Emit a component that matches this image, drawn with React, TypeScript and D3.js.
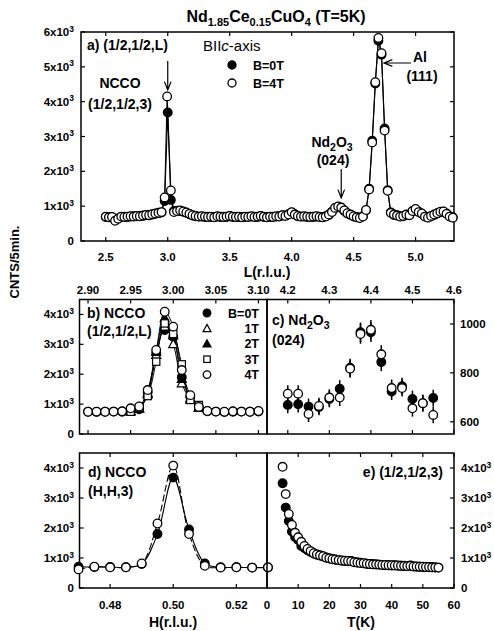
import * as d3 from 'd3'

const FONT = "'Liberation Sans', Arial, Helvetica, sans-serif"

// a) (1/2,1/2,L) scan, [L, counts]
const scanA_B0: [number, number][] = [
  [2.5, 690], [2.525, 690], [2.55, 680], [2.575, 600], [2.6, 650], [2.625, 690], [2.65, 700], [2.675, 690],
  [2.7, 700], [2.725, 710], [2.75, 710], [2.775, 720], [2.8, 720], [2.825, 740], [2.85, 750], [2.875, 760],
  [2.9, 780], [2.925, 800], [2.95, 820], [2.975, 1150], [3.0, 3690], [3.025, 1180], [3.05, 860], [3.075, 870],
  [3.1, 860], [3.125, 840], [3.15, 810], [3.175, 770], [3.2, 730], [3.225, 710], [3.25, 700], [3.275, 700],
  [3.3, 690], [3.325, 700], [3.35, 690], [3.375, 690], [3.4, 700], [3.425, 690], [3.45, 700], [3.475, 690],
  [3.5, 710], [3.525, 690], [3.55, 700], [3.575, 690], [3.6, 690], [3.625, 690], [3.65, 700], [3.675, 700],
  [3.7, 700], [3.725, 690], [3.75, 710], [3.775, 690], [3.8, 690], [3.825, 690], [3.85, 700], [3.875, 700],
  [3.9, 710], [3.925, 730], [3.95, 730], [3.975, 770], [4.0, 810], [4.025, 770], [4.05, 710], [4.075, 700],
  [4.1, 700], [4.125, 690], [4.15, 700], [4.175, 690], [4.2, 700], [4.225, 700], [4.25, 690], [4.275, 710],
  [4.3, 750], [4.325, 840], [4.35, 940], [4.375, 980], [4.4, 950], [4.425, 860], [4.45, 790], [4.475, 750],
  [4.5, 700], [4.525, 690], [4.55, 670], [4.575, 710], [4.6, 880], [4.625, 1500], [4.65, 2880], [4.675, 4520],
  [4.7, 5750], [4.725, 5350], [4.75, 3230], [4.775, 1460], [4.8, 820], [4.825, 750], [4.85, 740], [4.875, 710],
  [4.9, 710], [4.925, 750], [4.95, 750], [4.975, 850], [5.0, 900], [5.025, 840], [5.05, 780], [5.075, 710],
  [5.1, 680], [5.125, 710], [5.15, 750], [5.175, 790], [5.2, 830], [5.225, 840], [5.25, 790], [5.275, 710],
  [5.3, 680],
]
const scanA_B4: [number, number][] = [
  [2.5, 700], [2.525, 680], [2.55, 690], [2.575, 580], [2.6, 640], [2.625, 700], [2.65, 690], [2.675, 700],
  [2.7, 710], [2.725, 700], [2.75, 720], [2.775, 710], [2.8, 730], [2.825, 750], [2.85, 740], [2.875, 770],
  [2.9, 790], [2.925, 810], [2.95, 830], [2.975, 1250], [2.995, 4150], [3.025, 1450], [3.05, 830], [3.075, 860],
  [3.1, 880], [3.125, 850], [3.15, 820], [3.175, 780], [3.2, 740], [3.225, 720], [3.25, 700], [3.275, 710],
  [3.3, 700], [3.325, 690], [3.35, 700], [3.375, 680], [3.4, 710], [3.425, 700], [3.45, 690], [3.475, 700],
  [3.5, 720], [3.525, 700], [3.55, 690], [3.575, 700], [3.6, 680], [3.625, 700], [3.65, 690], [3.675, 710],
  [3.7, 690], [3.725, 700], [3.75, 720], [3.775, 700], [3.8, 680], [3.825, 700], [3.85, 690], [3.875, 710],
  [3.9, 700], [3.925, 740], [3.95, 720], [3.975, 760], [4.0, 830], [4.025, 760], [4.05, 720], [4.075, 700],
  [4.1, 710], [4.125, 700], [4.15, 690], [4.175, 700], [4.2, 710], [4.225, 690], [4.25, 680], [4.275, 700],
  [4.3, 760], [4.325, 830], [4.35, 950], [4.375, 990], [4.4, 960], [4.425, 880], [4.45, 800], [4.475, 760],
  [4.5, 710], [4.525, 680], [4.55, 660], [4.575, 700], [4.6, 890], [4.625, 1480], [4.65, 2830], [4.675, 4560],
  [4.7, 5830], [4.725, 5390], [4.75, 3170], [4.775, 1440], [4.8, 810], [4.825, 760], [4.85, 730], [4.875, 700],
  [4.9, 720], [4.925, 760], [4.95, 740], [4.975, 860], [5.0, 920], [5.025, 830], [5.05, 790], [5.075, 700],
  [5.1, 670], [5.125, 720], [5.15, 760], [5.175, 800], [5.2, 840], [5.225, 850], [5.25, 780], [5.275, 700],
  [5.3, 670],
]

// b) NCCO (1/2,1/2,L), several fields
const Lb = [2.9, 2.91, 2.92, 2.93, 2.94, 2.95, 2.96, 2.97, 2.98, 2.99, 3.0, 3.01, 3.02, 3.03, 3.04, 3.05, 3.06, 3.07, 3.08, 3.09, 3.1]
const b0T = [745, 740, 745, 750, 745, 770, 830, 1400, 2700, 3480, 3250, 1900, 1250, 900, 760, 750, 740, 745, 750, 745, 750]
const b4T = [745, 750, 745, 750, 760, 860, 920, 1470, 2810, 4090, 3590, 2140, 1300, 907, 770, 750, 745, 760, 750, 745, 770]
const Lb_mid = [2.95, 2.96, 2.97, 2.98, 2.99, 3.0, 3.01, 3.02, 3.03]
const b1T = [760, 860, 1330, 2650, 3600, 3010, 1700, 1150, 880]
const b2T = [770, 850, 1380, 2750, 3880, 3300, 1850, 1200, 900]
const b3T = [745, 880, 1270, 2420, 3700, 3350, 2330, 1140, 970]

// c) Nd2O3 (024)
const Lc = [4.2, 4.225, 4.25, 4.275, 4.3, 4.325, 4.35, 4.375, 4.4, 4.425, 4.45, 4.475, 4.5, 4.525, 4.55]
const c0T = [669, 672, 662, 660, 693, 735, 821, 966, 966, 844, 724, 745, 693, 676, 697]
const c4T = [715, 715, 632, 665, 699, 699, 817, 959, 976, 876, 738, 738, 655, 676, 628]
const cErr = [34, 34, 33, 33, 34, 35, 37, 40, 40, 37, 35, 35, 34, 34, 34]

// d) NCCO (H,H,3)
const Hd = [0.47, 0.475, 0.48, 0.485, 0.49, 0.495, 0.5, 0.505, 0.51, 0.515, 0.52, 0.525, 0.53]
const d0T = [710, 700, 700, 690, 800, 1800, 3680, 1950, 820, 690, 690, 680, 680]
const d4T = [620, 710, 690, 690, 820, 2150, 4080, 1800, 740, 680, 690, 680, 690]

// e) (1/2,1/2,3) vs temperature
const Te = [5, 6, 7, 8, 9, 10, 11, 12, 13, 14, 15, 16, 17, 18, 19, 20, 21, 22, 23, 24, 25, 26, 27, 28, 29, 30,
  31, 32, 33, 34, 35, 36, 37, 38, 39, 40, 41, 42, 43, 44, 45, 46, 47, 48, 49, 50, 51, 52, 53, 54, 55]
const e4T = [4040, 3130, 2470, 2100, 1840, 1690, 1540, 1400, 1300, 1230, 1160, 1120, 1090, 1060, 1010, 990, 960,
  950, 930, 920, 910, 900, 890, 860, 850, 830, 830, 810, 800, 790, 790, 780, 770, 770, 760, 760, 750, 750, 740,
  740, 730, 740, 720, 720, 710, 710, 700, 700, 690, 690, 680]
const e0T = [3490, 2680, 2230, 1880, 1700, 1600, 1400, 1330, 1260, 1200, 1150, 1110, 1080, 1050, 1020, 980, 970,
  940, 930, 910, 900, 890, 900, 870, 850, 840, 820, 810, 800, 790, 780, 780, 770, 760, 760, 750, 760, 740, 740,
  730, 730, 750, 720, 710, 710, 700, 700, 690, 690, 680, 680]

const ticksA_x = [2.5, 3.0, 3.5, 4.0, 4.5, 5.0]
const ticksA_y = [0, 1000, 2000, 3000, 4000, 5000, 6000]
const ticksB_x = [2.9, 2.95, 3.0, 3.05, 3.1]
const ticksBD_y = [0, 1000, 2000, 3000, 4000]
const ticksC_x = [4.2, 4.3, 4.4, 4.5, 4.6]
const ticksC_y = [600, 800, 1000]
const ticksD_x = [0.48, 0.5, 0.52]
const ticksE_x = [0, 10, 20, 30, 40, 50, 60]

const R = 4.3
const TK = 4
const TF = 11.5 // tick label size
const AF = 14 // annotation size

const xA = d3.scaleLinear().domain([2.3, 5.31]).range([81, 454])
const yA = d3.scaleLinear().domain([0, 6000]).range([241, 32])
const xB = d3.scaleLinear().domain([2.89, 3.11]).range([79.5, 267])
const yB = d3.scaleLinear().domain([0, 4500]).range([434, 299.5])
const xC = d3.scaleLinear().domain([4.15, 4.6]).range([267, 454])
const yC = d3.scaleLinear().domain([550, 1100]).range([434, 299.5])
const xD = d3.scaleLinear().domain([0.4703, 0.5297]).range([79.5, 267])
const yD = d3.scaleLinear().domain([0, 4500]).range([588, 453])
const xE = d3.scaleLinear().domain([0, 60]).range([267, 454])

type S = d3.ScaleLinear<number, number>

const Sci = ({ x, y, v, anchor }: { x: number; y: number; v: number; anchor: string }) => (
  <text x={x} y={y} textAnchor={anchor} fontSize={TF} fontWeight="bold" fontFamily={FONT}>
    {v === 0 ? '0' : (
      <>
        {v / 1000}x10<tspan dy={-4.5} fontSize={8.5}>3</tspan>
      </>
    )}
  </text>
)

const Frame = ({ x, y }: { x: S; y: S }) => {
  const [x0, x1] = x.range()
  const [y1, y0] = y.range()
  return <rect x={x0} y={y0} width={x1 - x0} height={y1 - y0} fill="none" stroke="#000" strokeWidth={1.5} />
}

const XTicks = ({ x, y, vals, top = true, bottom = true }: { x: S; y: S; vals: number[]; top?: boolean; bottom?: boolean }) => {
  const [y1, y0] = y.range()
  return (
    <g stroke="#000" strokeWidth={1.2}>
      {vals.map((v) => (
        <g key={v}>
          {top && <line x1={x(v)} x2={x(v)} y1={y0} y2={y0 + TK} />}
          {bottom && <line x1={x(v)} x2={x(v)} y1={y1} y2={y1 - TK} />}
        </g>
      ))}
    </g>
  )
}

const YTicks = ({ x, y, vals, left = true, right = true }: { x: S; y: S; vals: number[]; left?: boolean; right?: boolean }) => {
  const [x0, x1] = x.range()
  return (
    <g stroke="#000" strokeWidth={1.2}>
      {vals.map((v) => (
        <g key={v}>
          {left && <line x1={x0} x2={x0 + TK} y1={y(v)} y2={y(v)} />}
          {right && <line x1={x1} x2={x1 - TK} y1={y(v)} y2={y(v)} />}
        </g>
      ))}
    </g>
  )
}

const Marker = ({ kind, cx, cy, r = R }: { kind: string; cx: number; cy: number; r?: number }) => {
  const filled = kind.startsWith('f')
  const fill = filled ? '#000' : '#fff'
  if (kind.endsWith('circle')) return <circle cx={cx} cy={cy} r={r} fill={fill} stroke="#000" strokeWidth={1.3} />
  if (kind.endsWith('tri')) {
    const s = r * 1.05
    return (
      <path d={`M${cx},${cy - s}L${cx + s},${cy + s * 0.8}L${cx - s},${cy + s * 0.8}Z`} fill={fill} stroke="#000" strokeWidth={1.2} />
    )
  }
  const s = r * 0.85
  return <rect x={cx - s} y={cy - s} width={2 * s} height={2 * s} fill={fill} stroke="#000" strokeWidth={1.2} />
}

const Arrow = ({ x1, y1, x2, y2 }: { x1: number; y1: number; x2: number; y2: number }) => {
  const a = Math.atan2(y2 - y1, x2 - x1)
  const h = 9
  const w = 0.38
  const p1 = [x2 - h * Math.cos(a - w), y2 - h * Math.sin(a - w)]
  const p2 = [x2 - h * Math.cos(a + w), y2 - h * Math.sin(a + w)]
  return (
    <path d={`M${x1},${y1}L${x2},${y2}M${p1[0]},${p1[1]}L${x2},${y2}L${p2[0]},${p2[1]}`} fill="none" stroke="#000" strokeWidth={1.2} />
  )
}

const B = (props: any) => <text fontFamily={FONT} fontWeight="bold" fontSize={AF} {...props} />

export default function App() {
  const lineA = d3.line<[number, number]>().x((d) => xA(d[0])).y((d) => yA(d[1]))
  const smooth = (x: S, y: S, xs: number[], ys: number[]) =>
    d3.line<number>().x((_, i) => x(xs[i])).y((v) => y(v)).curve(d3.curveCatmullRom.alpha(0.5))(ys) || ''

  const legB = [
    { kind: 'fcircle', label: 'B=0T' },
    { kind: 'otri', label: '1T' },
    { kind: 'ftri', label: '2T' },
    { kind: 'osq', label: '3T' },
    { kind: 'ocircle', label: '4T' },
  ]

  return (
    <svg width={494} height={631} style={{ position: 'absolute', left: 0, top: 0, background: '#fff' }} fontFamily={FONT}>
      {/* title */}
      <text x={276} y={22} textAnchor="middle" fontSize={16} fontWeight="bold">
        Nd<tspan dy={4} fontSize={11}>1.85</tspan>
        <tspan dy={-4}>Ce</tspan>
        <tspan dy={4} fontSize={11}>0.15</tspan>
        <tspan dy={-4}>CuO</tspan>
        <tspan dy={4} fontSize={11}>4</tspan>
        <tspan dy={-4}> (T=5K)</tspan>
      </text>

      {/* y label */}
      <B x={0} y={0} transform="translate(19,262) rotate(-90)" textAnchor="middle" fontSize={13}>CNTS/5min.</B>

      {/* ---------- panel a ---------- */}
      <Frame x={xA} y={yA} />
      <XTicks x={xA} y={yA} vals={ticksA_x} />
      <YTicks x={xA} y={yA} vals={ticksA_y} />
      {ticksA_y.map((v) => <Sci key={v} x={74} y={yA(v) + 4} v={v} anchor="end" />)}
      {ticksA_x.map((v) => (
        <text key={v} x={xA(v)} y={261} textAnchor="middle" fontSize={TF} fontWeight="bold">{v.toFixed(1)}</text>
      ))}
      <B x={267} y={277}>{''}</B>
      <B x={267} y={277} textAnchor="middle">L(r.l.u.)</B>
      <path d={lineA(scanA_B0) || ''} fill="none" stroke="#000" strokeWidth={1.1} />
      <path d={lineA(scanA_B4) || ''} fill="none" stroke="#000" strokeWidth={1.1} />
      {scanA_B0.map((d, i) => <Marker key={'a0' + i} kind="fcircle" cx={xA(d[0])} cy={yA(d[1])} />)}
      {scanA_B4.map((d, i) => <Marker key={'a4' + i} kind="ocircle" cx={xA(d[0])} cy={yA(d[1])} />)}
      <B x={87} y={50}>a) (1/2,1/2,L)</B>
      <text x={203} y={51} fontSize={15}>
        BII<tspan fontStyle="italic">c</tspan>-axis
      </text>
      <Marker kind="fcircle" cx={232} cy={65} r={4} />
      <B x={253} y={70} fontSize={12.5}>B=0T</B>
      <Marker kind="ocircle" cx={232} cy={83} r={4} />
      <B x={253} y={88} fontSize={12.5}>B=4T</B>
      <B x={120} y={88} textAnchor="middle">NCCO</B>
      <B x={120} y={109} textAnchor="middle">(1/2,1/2,3)</B>
      <Arrow x1={xA(3.0)} y1={61} x2={xA(3.0)} y2={90} />
      <B x={332} y={147} textAnchor="middle">
        Nd<tspan dy={4} fontSize={10.5}>2</tspan><tspan dy={-4}>O</tspan><tspan dy={4} fontSize={10.5}>3</tspan>
      </B>
      <B x={333} y={165} textAnchor="middle">(024)</B>
      <Arrow x1={xA(4.4)} y1={169} x2={xA(4.4)} y2={198} />
      <B x={413} y={62}>Al</B>
      <B x={422} y={81} textAnchor="middle">(111)</B>
      <Arrow x1={411} y1={63} x2={384} y2={63} />

      {/* ---------- panel b ---------- */}
      <Frame x={xB} y={yB} />
      <XTicks x={xB} y={yB} vals={ticksB_x} />
      <YTicks x={xB} y={yB} vals={ticksBD_y} right={false} />
      {ticksBD_y.map((v) => <Sci key={v} x={74} y={yB(v) + 4} v={v} anchor="end" />)}
      {ticksB_x.map((v) => (
        <text key={v} x={xB(v)} y={294} textAnchor="middle" fontSize={TF} fontWeight="bold">{v.toFixed(2)}</text>
      ))}
      <path d={smooth(xB, yB, Lb, b0T)} fill="none" stroke="#000" strokeWidth={1} />
      <path d={smooth(xB, yB, Lb_mid, b1T)} fill="none" stroke="#000" strokeWidth={1} />
      <path d={smooth(xB, yB, Lb_mid, b2T)} fill="none" stroke="#000" strokeWidth={1} />
      <path d={smooth(xB, yB, Lb_mid, b3T)} fill="none" stroke="#000" strokeWidth={1} />
      <path d={smooth(xB, yB, Lb, b4T)} fill="none" stroke="#000" strokeWidth={1} />
      {b0T.map((v, i) => <Marker key={'b0' + i} kind="fcircle" cx={xB(Lb[i])} cy={yB(v)} />)}
      {b1T.map((v, i) => <Marker key={'b1' + i} kind="otri" cx={xB(Lb_mid[i])} cy={yB(v)} />)}
      {b2T.map((v, i) => <Marker key={'b2' + i} kind="ftri" cx={xB(Lb_mid[i])} cy={yB(v)} />)}
      {b3T.map((v, i) => <Marker key={'b3' + i} kind="osq" cx={xB(Lb_mid[i])} cy={yB(v)} />)}
      {b4T.map((v, i) => <Marker key={'b4' + i} kind="ocircle" cx={xB(Lb[i])} cy={yB(v)} />)}
      <B x={87} y={318}>b) NCCO</B>
      <B x={87} y={336}>(1/2,1/2,L)</B>
      {legB.map((l, i) => (
        <g key={l.label}>
          <Marker kind={l.kind} cx={207} cy={313 + i * 15.4} r={3.8} />
          <B x={259} y={317.5 + i * 15.4} textAnchor="end" fontSize={12.5}>{l.label}</B>
        </g>
      ))}

      {/* ---------- panel c ---------- */}
      <Frame x={xC} y={yC} />
      <XTicks x={xC} y={yC} vals={ticksC_x} />
      <YTicks x={xC} y={yC} vals={ticksC_y} left={false} />
      {ticksC_y.map((v) => (
        <text key={v} x={460} y={yC(v) + 4} fontSize={TF} fontWeight="bold">{v}</text>
      ))}
      {ticksC_x.map((v) => (
        <text key={v} x={xC(v)} y={294} textAnchor="middle" fontSize={TF} fontWeight="bold">{v.toFixed(1)}</text>
      ))}
      <g stroke="#000" strokeWidth={1.5}>
        {c0T.map((v, i) => <line key={'ce0' + i} x1={xC(Lc[i])} x2={xC(Lc[i])} y1={yC(v - cErr[i])} y2={yC(v + cErr[i])} />)}
        {c4T.map((v, i) => <line key={'ce4' + i} x1={xC(Lc[i])} x2={xC(Lc[i])} y1={yC(v - cErr[i])} y2={yC(v + cErr[i])} />)}
      </g>
      {c0T.map((v, i) => <Marker key={'c0' + i} kind="fcircle" cx={xC(Lc[i])} cy={yC(v)} />)}
      {c4T.map((v, i) => <Marker key={'c4' + i} kind="ocircle" cx={xC(Lc[i])} cy={yC(v)} />)}
      <B x={272} y={325}>
        c) Nd<tspan dy={4} fontSize={10.5}>2</tspan><tspan dy={-4}>O</tspan><tspan dy={4} fontSize={10.5}>3</tspan>
      </B>
      <B x={272} y={345}>(024)</B>

      {/* ---------- panel d ---------- */}
      <Frame x={xD} y={yD} />
      <XTicks x={xD} y={yD} vals={ticksD_x} />
      <YTicks x={xD} y={yD} vals={ticksBD_y} right={false} />
      {ticksBD_y.map((v) => <Sci key={v} x={74} y={yD(v) + 4} v={v} anchor="end" />)}
      {ticksD_x.map((v) => (
        <text key={v} x={xD(v)} y={609} textAnchor="middle" fontSize={TF} fontWeight="bold">{v.toFixed(2)}</text>
      ))}
      <B x={173} y={627} textAnchor="middle">H(r.l.u.)</B>
      <path d={smooth(xD, yD, Hd, d0T)} fill="none" stroke="#000" strokeWidth={1.1} />
      <path d={smooth(xD, yD, Hd, d4T)} fill="none" stroke="#000" strokeWidth={1.1} strokeDasharray="7,3" />
      {d0T.map((v, i) => <Marker key={'d0' + i} kind="fcircle" cx={xD(Hd[i])} cy={yD(v)} />)}
      {d4T.map((v, i) => <Marker key={'d4' + i} kind="ocircle" cx={xD(Hd[i])} cy={yD(v)} />)}
      <B x={88} y={477}>d) NCCO</B>
      <B x={88} y={496}>(H,H,3)</B>

      {/* ---------- panel e ---------- */}
      <Frame x={xE} y={yD} />
      <XTicks x={xE} y={yD} vals={ticksE_x} />
      <YTicks x={xE} y={yD} vals={ticksBD_y} left={false} />
      {ticksBD_y.map((v) => <Sci key={v} x={461} y={yD(v) + 4} v={v} anchor="start" />)}
      {ticksE_x.map((v) => (
        <text key={v} x={xE(v)} y={609} textAnchor="middle" fontSize={TF} fontWeight="bold">{v}</text>
      ))}
      <B x={361} y={627} textAnchor="middle">T(K)</B>
      {e0T.map((v, i) => <Marker key={'e0' + i} kind="fcircle" cx={xE(Te[i])} cy={yD(v)} />)}
      {e4T.map((v, i) => <Marker key={'e4' + i} kind="ocircle" cx={xE(Te[i])} cy={yD(v)} />)}
      <B x={443} y={477} textAnchor="end">e) (1/2,1/2,3)</B>
    </svg>
  )
}
